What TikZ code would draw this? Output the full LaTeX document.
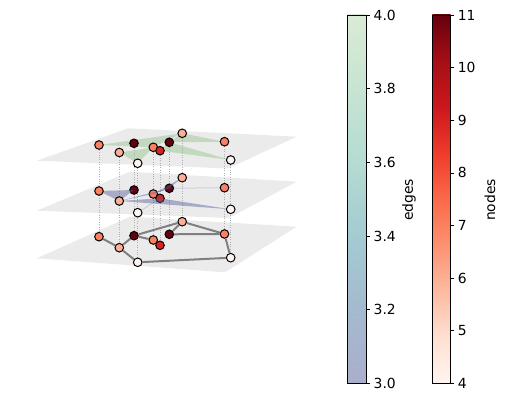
\documentclass[tikz,border=0pt]{standalone}
\usepackage{fontspec}
\setmainfont{DejaVu Sans}
\definecolor{planec}{RGB}{235,235,235}
\definecolor{dotc}{RGB}{175,175,175}
\definecolor{edgec}{RGB}{128,128,128}
\definecolor{greenc}{RGB}{130,190,120}
\definecolor{bluec}{RGB}{85,95,151}
\definecolor{vfour}{RGB}{255,245,240}
\definecolor{vsix}{RGB}{252,175,148}
\definecolor{vseven}{RGB}{252,129,97}
\definecolor{vnine}{RGB}{214,35,34}
\definecolor{veleven}{RGB}{103,0,13}
% Reds stops
\definecolor{rz}{RGB}{255,245,240}
\definecolor{ra}{RGB}{254,224,210}
\definecolor{rb}{RGB}{252,187,161}
\definecolor{rc}{RGB}{252,146,114}
\definecolor{rd}{RGB}{251,106,74}
\definecolor{re}{RGB}{239,59,44}
\definecolor{rf}{RGB}{203,24,29}
\definecolor{rg}{RGB}{165,15,21}
\definecolor{rh}{RGB}{103,0,13}
% edges stops (blended)
\definecolor{ez}{RGB}{170,174,203}
\definecolor{ea}{RGB}{164,186,207}
\definecolor{eb}{RGB}{163,203,210}
\definecolor{ec}{RGB}{181,219,210}
\definecolor{ed}{RGB}{200,228,210}
\definecolor{ee}{RGB}{217,235,213}
\pgfdeclareverticalshading{redsbar}{100bp}{color(0bp)=(rz); color(25bp)=(rz); color(31.25bp)=(ra); color(37.5bp)=(rb); color(43.75bp)=(rc); color(50bp)=(rd); color(56.25bp)=(re); color(62.5bp)=(rf); color(68.75bp)=(rg); color(75bp)=(rh); color(100bp)=(rh)}
\pgfdeclareverticalshading{edgesbar}{100bp}{color(0bp)=(ez); color(25bp)=(ez); color(35bp)=(ea); color(45bp)=(eb); color(55bp)=(ec); color(65bp)=(ed); color(75bp)=(ee); color(100bp)=(ee)}
\begin{document}
\begin{tikzpicture}[x=1pt,y=-1pt,
  plane/.style={fill=planec},
  vline/.style={draw=dotc,line width=0.7pt,dash pattern=on 1pt off 1.4pt},
  link/.style={draw=edgec,line width=2pt},
  gtri/.style={fill=greenc,fill opacity=0.38},
  btri/.style={fill=bluec,fill opacity=0.45},
  bthin/.style={draw=bluec,draw opacity=0.35,line width=0.5pt},
  vtx/.style={circle,draw=black,line width=1pt,minimum size=8.6pt,inner sep=0pt},
  tick/.style={line width=0.8pt},
  ticklab/.style={anchor=west,inner sep=0pt,font=\fontsize{13.9}{16}\selectfont},
  barlab/.style={rotate=90,inner sep=0pt,font=\fontsize{13.9}{16}\selectfont}
]
\useasboundingbox (0,0) rectangle (507,403);
% planes
\path[plane] (36.7,258.3) -- (130,216.7) -- (296.7,226.7) -- (225,272.3) -- cycle;
\path[plane] (36.7,210.7) -- (130,171.7) -- (296.7,181.7) -- (229,218) -- cycle;
\path[plane] (36.7,160.7) -- (128.3,128.3) -- (296.7,136.7) -- (228,168.5) -- cycle;
% coordinates
\foreach \n/\x/\yt/\ym/\yb in {A/99/145/191/236.7, B/119.3/152.5/201/247.7, C/134/143.3/190/235.7, D/137.7/163.3/212.7/262.3, E/153.3/147.3/194/240, F/160/150.7/198.3/245.3, G/169.3/142.3/188.3/234.3, H/182.2/133.3/177.7/221.7, I/224.5/141.7/187.7/234, J/230.7/160/209.3/257.7}{
  \coordinate (t\n) at (\x,\yt);
  \coordinate (m\n) at (\x,\ym);
  \coordinate (b\n) at (\x,\yb);
}
% dotted vertical lines
\foreach \n in {A,B,C,D,E,F,G,H,I,J}{\draw[vline] (t\n) -- (b\n);}
% bottom layer
\foreach \n/\c in {A/vseven,B/vsix,C/veleven,D/vfour,E/vseven,F/vnine,G/veleven,H/vsix,I/vseven,J/vfour}{
  \node[vtx,fill=\c] (nb\n) at (b\n) {};
}
\foreach \a/\b in {A/B,B/C,B/D,C/E,C/H,H/G,H/I,G/I,I/J,D/J}{
  \draw[link] (nb\a) -- (nb\b);
}
% middle layer
\foreach \n/\c in {C/veleven,E/vseven,F/vnine,G/veleven}{
  \node[vtx,fill=\c] (nm\n) at (m\n) {};
}
\path[btri] (mA) -- (mC) -- (mB) -- cycle;
\path[btri] (mB) -- (mG) -- (mE) -- cycle;
\path[btri] (mB) -- (mF) -- (mJ) -- cycle;
\path[btri] (mE) -- (mG) -- (mH) -- cycle;
\draw[bthin] (mD) -- (mF);
\draw[bthin] (mG) -- (mI);
\foreach \n/\c in {A/vseven,B/vsix,D/vfour,H/vsix,I/vseven,J/vfour}{
  \node[vtx,fill=\c] (nm\n) at (m\n) {};
}
% top layer
\path[gtri] (tA) -- (tH) -- (tE) -- cycle;
\path[gtri] (tB) -- (tE) -- (tD) -- cycle;
\path[gtri] (tH) -- (tG) -- (tI) -- cycle;
\path[gtri] (tG) -- (tF) -- (tJ) -- cycle;
\foreach \n/\c in {A/vseven,B/vsix,C/veleven,D/vfour,E/vseven,F/vnine,G/veleven,H/vsix,I/vseven,J/vfour}{
  \node[vtx,fill=\c] (nt\n) at (t\n) {};
}
% colorbar edges
\path[shading=edgesbar] (347.3,15) rectangle (366,383.5);
\draw[line width=0.8pt] (347.3,15) rectangle (366,383.5);
\foreach \v/\y in {3.0/383.5,3.2/309.8,3.4/236.1,3.6/162.4,3.8/88.7,4.0/15}{
  \draw[tick] (366,\y) -- (369.5,\y);
  \node[ticklab] (el\v) at (373.5,\y) {\v};
}
\node[barlab] (elab) at (409,200) {edges};
% colorbar nodes
\path[shading=redsbar] (432.3,15) rectangle (450.7,383.5);
\draw[line width=0.8pt] (432.3,15) rectangle (450.7,383.5);
\foreach \v in {4,...,11}{
  \pgfmathsetmacro{\yy}{383.5-(\v-4)*52.643}
  \draw[tick] (450.7,\yy) -- (454.2,\yy);
  \node[ticklab] (nl\v) at (457.7,\yy) {\v};
}
\node[barlab] (nlab) at (490,200) {nodes};
\end{tikzpicture}
\end{document}
